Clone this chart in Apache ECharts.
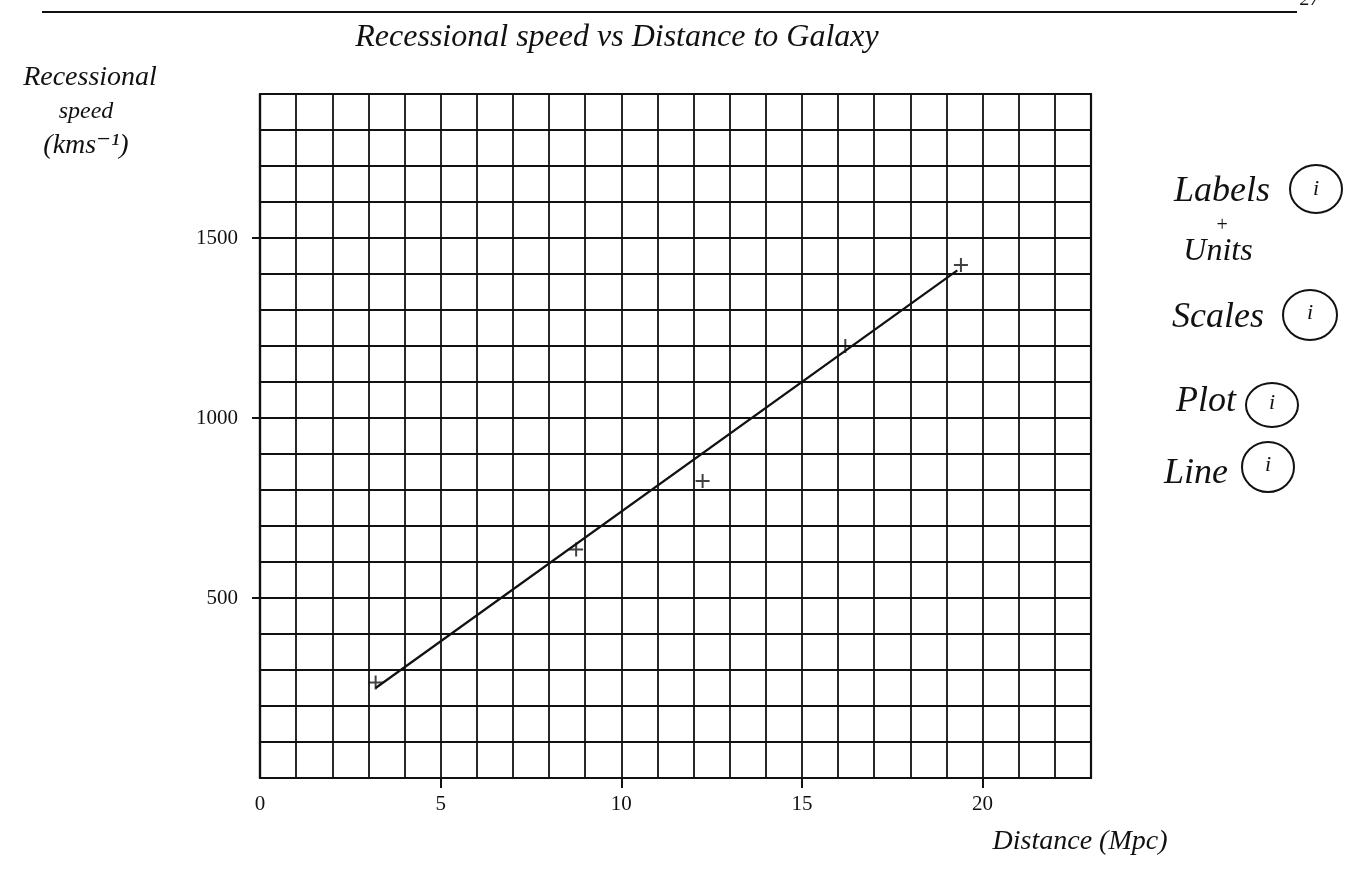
<!DOCTYPE html>
<html lang="en">

<head>
  <meta charset="utf-8">
  <title>Recessional speed vs Distance to Galaxy</title>
  <style>
    html, body {
      margin: 0;
      padding: 0;
      background: #fff;
    }

    #chart-box {
      width: 1359px;
      height: 869px;
    }
  </style>
</head>

<body>
  <div id="chart-box"></div>

  <script src="https://cdn.jsdelivr.net/npm/echarts@6/dist/echarts.min.js"></script>
  <script type="text/javascript">
    // plotted points (distance in Mpc, speed in km/s)
    var distance = [3.2, 8.75, 12.25, 16.2, 19.4];
    var speed = [265, 635, 825, 1200, 1425];

    // hand drawn best fit line, two ends
    var fitDistance = [3.2, 19.3];
    var fitSpeed = [250, 1410];

    // axis labels
    var xTickLabels = [0, 5, 10, 15, 20];
    var xTicks = [5, 10, 15, 20];
    var yTickLabels = [500, 1000, 1500];

    var ink = '#111';
    var hand = '"Liberation Serif", "DejaVu Serif", serif';

    var points = distance.map(function (d, i) {
      return [d, speed[i]];
    });
    var fitLine = fitDistance.map(function (d, i) {
      return [d, fitSpeed[i]];
    });

    var chart = echarts.init(document.querySelector('#chart-box'));

    function txt(text, x, y, size, align) {
      return {
        type: 'text',
        x: x,
        y: y,
        style: {
          text: text,
          fill: ink,
          font: 'italic ' + size + 'px ' + hand,
          textAlign: align || 'left',
          textVerticalAlign: 'middle'
        }
      };
    }

    function ring(cx, cy, rx, ry) {
      return {
        type: 'ellipse',
        shape: { cx: cx, cy: cy, rx: rx, ry: ry },
        style: { fill: 'none', stroke: ink, lineWidth: 2 }
      };
    }

    var plain = function (v) { return String(v); };
    var gridLine = { show: true, lineStyle: { color: '#111', width: 1.8 } };

    var options = {
      animation: false,
      backgroundColor: '#fff',
      grid: {
        left: 260,
        right: 268,
        top: 94,
        bottom: 91,
        containLabel: false,
        show: true,
        borderColor: ink,
        borderWidth: 2.2
      },
      xAxis: [
        // 1 Mpc squares
        {
          type: 'value',
          min: 0,
          max: 23,
          interval: 1,
          axisLine: { show: true, lineStyle: { color: ink, width: 2.2 } },
          axisTick: { show: false },
          axisLabel: { show: false },
          splitLine: gridLine
        },
        // scale marks every 5
        {
          type: 'value',
          position: 'bottom',
          min: 0,
          max: 23,
          axisLine: { show: false },
          axisTick: {
            show: true,
            customValues: xTicks,
            length: 10,
            lineStyle: { color: ink, width: 2 }
          },
          axisLabel: {
            customValues: xTickLabels,
            formatter: plain,
            margin: 16,
            color: ink,
            fontSize: 21,
            fontFamily: hand
          },
          splitLine: { show: false }
        }
      ],
      yAxis: [
        {
          type: 'value',
          min: 0,
          max: 1900,
          interval: 100,
          axisLine: { show: true, lineStyle: { color: ink, width: 2.2 } },
          axisTick: { show: false },
          axisLabel: { show: false },
          splitLine: gridLine
        },
        {
          type: 'value',
          position: 'left',
          min: 0,
          max: 1900,
          axisLine: { show: false },
          axisTick: {
            show: true,
            customValues: yTickLabels,
            length: 8,
            lineStyle: { color: ink, width: 2 }
          },
          axisLabel: {
            customValues: yTickLabels,
            formatter: plain,
            margin: 22,
            color: ink,
            fontSize: 21,
            fontFamily: hand
          },
          splitLine: { show: false }
        }
      ],
      series: [
        {
          name: 'best fit',
          type: 'line',
          xAxisIndex: 0,
          yAxisIndex: 0,
          data: fitLine,
          showSymbol: false,
          symbol: 'none',
          lineStyle: { color: ink, width: 2.2 },
          z: 3
        },
        {
          name: 'measurements',
          type: 'scatter',
          xAxisIndex: 0,
          yAxisIndex: 0,
          data: points,
          symbol: 'path://M5,0L5,10M0,5L10,5',
          symbolSize: 14,
          itemStyle: { color: 'none', borderColor: ink, borderWidth: 2 },
          z: 4
        }
      ],
      graphic: [
        // page rule and page number at the top
        {
          type: 'line',
          shape: { x1: 42, y1: 12, x2: 1297, y2: 12 },
          style: { stroke: ink, lineWidth: 2 }
        },
        txt('27', 1300, 0, 20),
        // title
        txt('Recessional speed vs Distance to Galaxy', 617, 38, 32, 'center'),
        // y axis name
        txt('Recessional', 90, 78, 28, 'center'),
        txt('speed', 86, 112, 24, 'center'),
        txt('(kms\u207B\u00B9)', 86, 146, 28, 'center'),
        // x axis name
        txt('Distance (Mpc)', 1080, 842, 28, 'center'),
        // marking notes on the right
        txt('Labels', 1222, 192, 36, 'center'),
        ring(1316, 189, 26, 24),
        txt('i', 1316, 189, 22, 'center'),
        txt('+', 1222, 226, 20, 'center'),
        txt('Units', 1218, 252, 32, 'center'),
        txt('Scales', 1218, 318, 36, 'center'),
        ring(1310, 315, 27, 25),
        txt('i', 1310, 313, 22, 'center'),
        txt('Plot', 1206, 402, 36, 'center'),
        ring(1272, 405, 26, 22),
        txt('i', 1272, 403, 22, 'center'),
        txt('Line', 1196, 474, 36, 'center'),
        ring(1268, 467, 26, 25),
        txt('i', 1268, 465, 22, 'center')
      ]
    };

    chart.setOption(options);
  </script>
</body>

</html>
